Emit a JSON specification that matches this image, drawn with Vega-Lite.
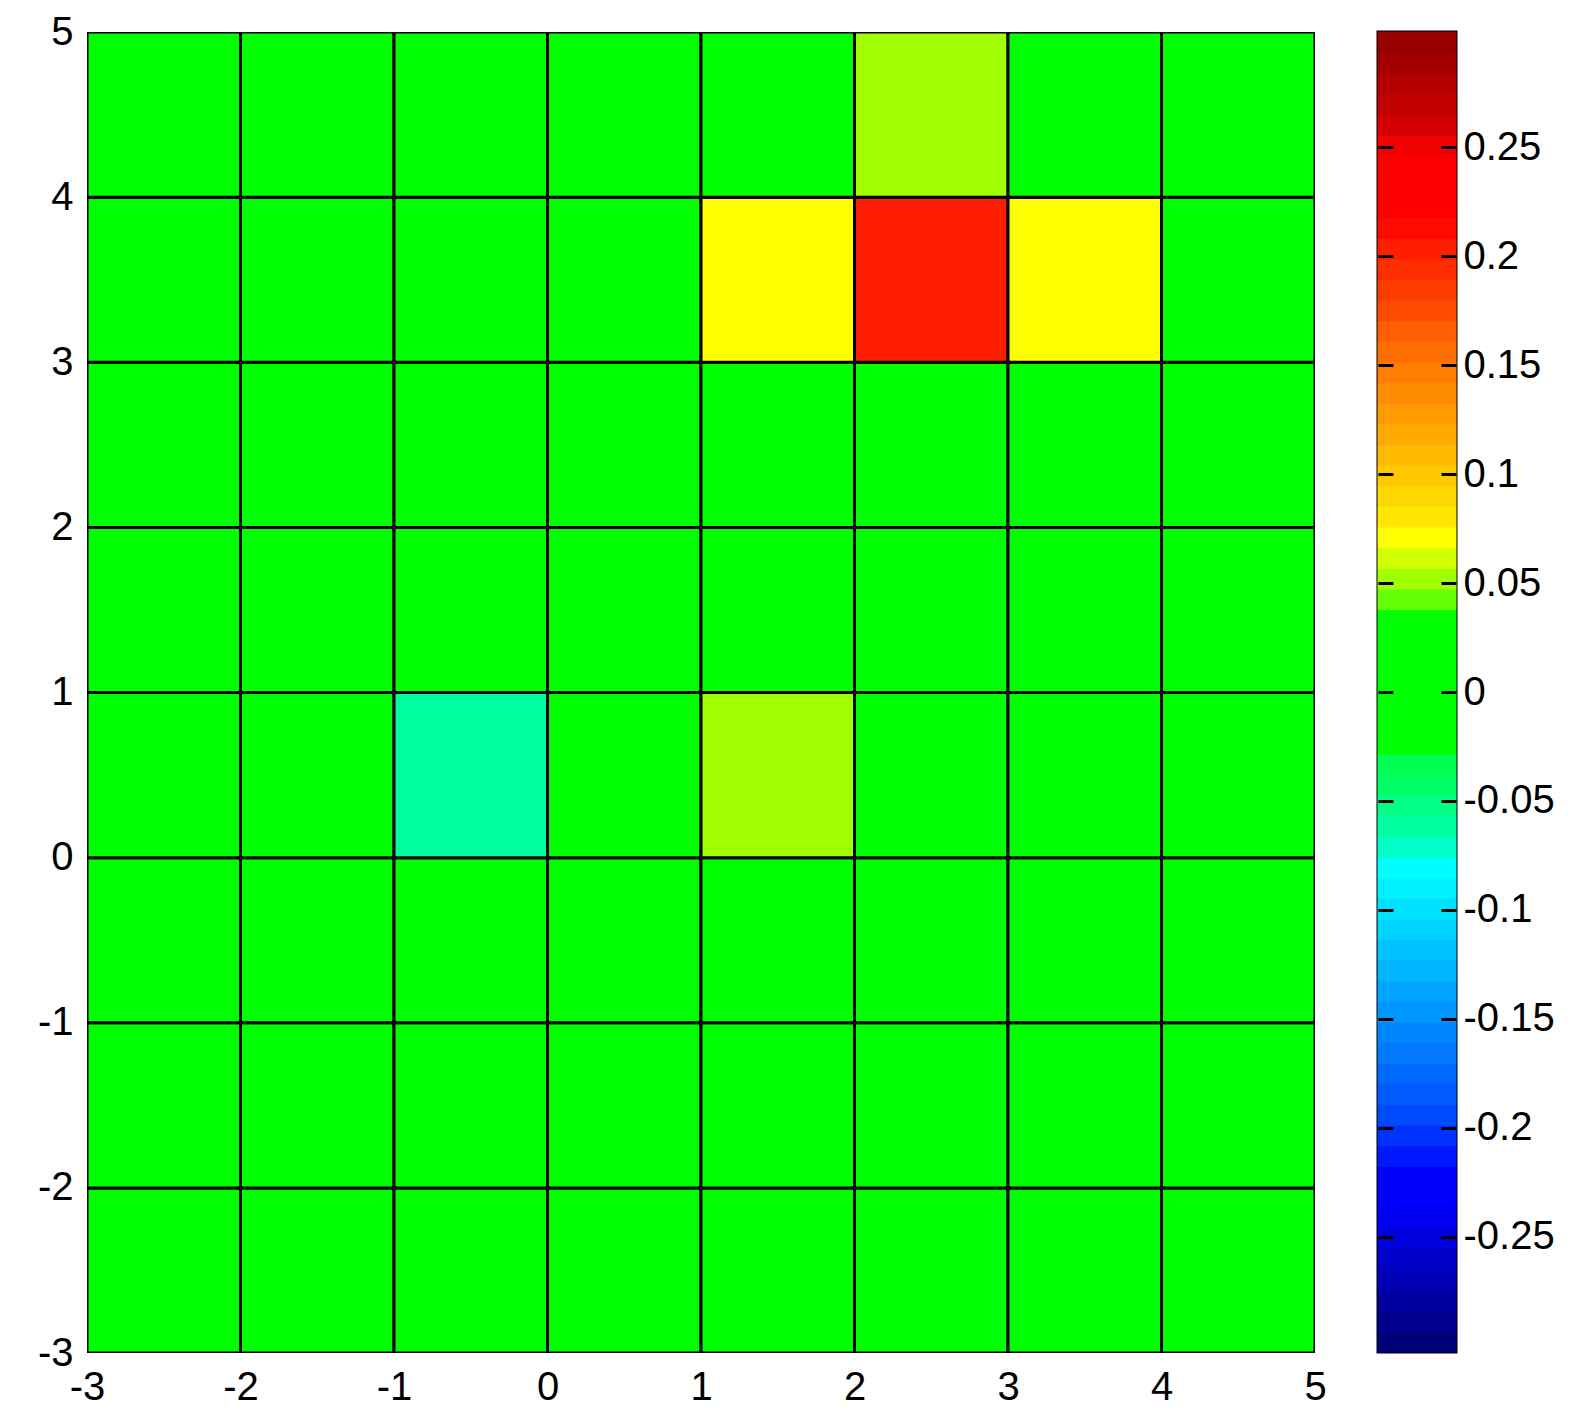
{
  "$schema": "https://vega.github.io/schema/vega-lite/v6.json",
  "padding": {"left": 37, "top": 12, "right": 0, "bottom": 0},
  "background": "white",
  "bounds": "flush",
  "spacing": 63,
  "config": {
    "axis": {"labelFont": "Liberation Sans", "labelFontSize": 40, "labelColor": "black", "grid": false, "domain": false, "ticks": false, "tickSize": 0, "labelPadding": 14, "labelFlush": false, "labelOverlap": false, "title": null, "labelExpr": "'' + datum.value"}
  },
  "resolve": {"scale": {"color": "shared"}},
  "hconcat": [
    {
      "width": 1228,
      "height": 1321,
      "view": {"stroke": null},
      "data": {"values": [
        {"x1": -3, "x2": -2, "y1": -3, "y2": -2, "v": 0},
        {"x1": -2, "x2": -1, "y1": -3, "y2": -2, "v": 0},
        {"x1": -1, "x2": 0, "y1": -3, "y2": -2, "v": 0},
        {"x1": 0, "x2": 1, "y1": -3, "y2": -2, "v": 0},
        {"x1": 1, "x2": 2, "y1": -3, "y2": -2, "v": 0},
        {"x1": 2, "x2": 3, "y1": -3, "y2": -2, "v": 0},
        {"x1": 3, "x2": 4, "y1": -3, "y2": -2, "v": 0},
        {"x1": 4, "x2": 5, "y1": -3, "y2": -2, "v": 0},
        {"x1": -3, "x2": -2, "y1": -2, "y2": -1, "v": 0},
        {"x1": -2, "x2": -1, "y1": -2, "y2": -1, "v": 0},
        {"x1": -1, "x2": 0, "y1": -2, "y2": -1, "v": 0},
        {"x1": 0, "x2": 1, "y1": -2, "y2": -1, "v": 0},
        {"x1": 1, "x2": 2, "y1": -2, "y2": -1, "v": 0},
        {"x1": 2, "x2": 3, "y1": -2, "y2": -1, "v": 0},
        {"x1": 3, "x2": 4, "y1": -2, "y2": -1, "v": 0},
        {"x1": 4, "x2": 5, "y1": -2, "y2": -1, "v": 0},
        {"x1": -3, "x2": -2, "y1": -1, "y2": 0, "v": 0},
        {"x1": -2, "x2": -1, "y1": -1, "y2": 0, "v": 0},
        {"x1": -1, "x2": 0, "y1": -1, "y2": 0, "v": 0},
        {"x1": 0, "x2": 1, "y1": -1, "y2": 0, "v": 0},
        {"x1": 1, "x2": 2, "y1": -1, "y2": 0, "v": 0},
        {"x1": 2, "x2": 3, "y1": -1, "y2": 0, "v": 0},
        {"x1": 3, "x2": 4, "y1": -1, "y2": 0, "v": 0},
        {"x1": 4, "x2": 5, "y1": -1, "y2": 0, "v": 0},
        {"x1": -3, "x2": -2, "y1": 0, "y2": 1, "v": 0},
        {"x1": -2, "x2": -1, "y1": 0, "y2": 1, "v": 0},
        {"x1": -1, "x2": 0, "y1": 0, "y2": 1, "v": -0.065},
        {"x1": 0, "x2": 1, "y1": 0, "y2": 1, "v": 0},
        {"x1": 1, "x2": 2, "y1": 0, "y2": 1, "v": 0.052},
        {"x1": 2, "x2": 3, "y1": 0, "y2": 1, "v": 0},
        {"x1": 3, "x2": 4, "y1": 0, "y2": 1, "v": 0},
        {"x1": 4, "x2": 5, "y1": 0, "y2": 1, "v": 0},
        {"x1": -3, "x2": -2, "y1": 1, "y2": 2, "v": 0},
        {"x1": -2, "x2": -1, "y1": 1, "y2": 2, "v": 0},
        {"x1": -1, "x2": 0, "y1": 1, "y2": 2, "v": 0},
        {"x1": 0, "x2": 1, "y1": 1, "y2": 2, "v": 0},
        {"x1": 1, "x2": 2, "y1": 1, "y2": 2, "v": 0},
        {"x1": 2, "x2": 3, "y1": 1, "y2": 2, "v": 0},
        {"x1": 3, "x2": 4, "y1": 1, "y2": 2, "v": 0},
        {"x1": 4, "x2": 5, "y1": 1, "y2": 2, "v": 0},
        {"x1": -3, "x2": -2, "y1": 2, "y2": 3, "v": 0},
        {"x1": -2, "x2": -1, "y1": 2, "y2": 3, "v": 0},
        {"x1": -1, "x2": 0, "y1": 2, "y2": 3, "v": 0},
        {"x1": 0, "x2": 1, "y1": 2, "y2": 3, "v": 0},
        {"x1": 1, "x2": 2, "y1": 2, "y2": 3, "v": 0},
        {"x1": 2, "x2": 3, "y1": 2, "y2": 3, "v": 0},
        {"x1": 3, "x2": 4, "y1": 2, "y2": 3, "v": 0},
        {"x1": 4, "x2": 5, "y1": 2, "y2": 3, "v": 0},
        {"x1": -3, "x2": -2, "y1": 3, "y2": 4, "v": 0},
        {"x1": -2, "x2": -1, "y1": 3, "y2": 4, "v": 0},
        {"x1": -1, "x2": 0, "y1": 3, "y2": 4, "v": 0},
        {"x1": 0, "x2": 1, "y1": 3, "y2": 4, "v": 0},
        {"x1": 1, "x2": 2, "y1": 3, "y2": 4, "v": 0.071},
        {"x1": 2, "x2": 3, "y1": 3, "y2": 4, "v": 0.203},
        {"x1": 3, "x2": 4, "y1": 3, "y2": 4, "v": 0.071},
        {"x1": 4, "x2": 5, "y1": 3, "y2": 4, "v": 0},
        {"x1": -3, "x2": -2, "y1": 4, "y2": 5, "v": 0},
        {"x1": -2, "x2": -1, "y1": 4, "y2": 5, "v": 0},
        {"x1": -1, "x2": 0, "y1": 4, "y2": 5, "v": 0},
        {"x1": 0, "x2": 1, "y1": 4, "y2": 5, "v": 0},
        {"x1": 1, "x2": 2, "y1": 4, "y2": 5, "v": 0},
        {"x1": 2, "x2": 3, "y1": 4, "y2": 5, "v": 0.052},
        {"x1": 3, "x2": 4, "y1": 4, "y2": 5, "v": 0},
        {"x1": 4, "x2": 5, "y1": 4, "y2": 5, "v": 0}
      ]},
      "mark": {"type": "rect", "stroke": "black", "strokeWidth": 3, "clip": true},
      "encoding": {
        "x": {"field": "x1", "type": "quantitative", "scale": {"domain": [-3, 5], "nice": false, "zero": false}, "axis": {"orient": "bottom", "values": [-3, -2, -1, 0, 1, 2, 3, 4, 5]}},
        "x2": {"field": "x2"},
        "y": {"field": "y1", "type": "quantitative", "scale": {"domain": [-3, 5], "nice": false, "zero": false}, "axis": {"orient": "left", "values": [-3, -2, -1, 0, 1, 2, 3, 4, 5]}},
        "y2": {"field": "y2"},
        "color": {"field": "v", "type": "quantitative", "legend": null, "scale": {"type": "quantize", "domain": [-0.303, 0.303], "nice": false, "zero": false, "range": ["#000078", "#00008C", "#0000A0", "#0000B4", "#0000C8", "#0000DC", "#0000F0", "#0000FF", "#0000FF", "#0019FF", "#0032FF", "#004BFF", "#005AFF", "#0069FF", "#0078FF", "#0087FF", "#0096FF", "#00A5FF", "#00B4FF", "#00C3FF", "#00D2FF", "#00E1FF", "#00F0FF", "#00FFFF", "#00FFC8", "#00FFA0", "#00FF82", "#00FF64", "#00FF50", "#00FF00", "#00FF00", "#00FF00", "#00FF00", "#00FF00", "#00FF00", "#00FF00", "#64FF00", "#A0FF00", "#D2FF00", "#FFFF00", "#FFE600", "#FFD700", "#FFC800", "#FFB900", "#FFAA00", "#FF9B00", "#FF8C00", "#FF7D00", "#FF6E00", "#FF5F00", "#FF4B00", "#FF3C00", "#FF2D00", "#FF1E00", "#FF0A00", "#FF0000", "#FF0000", "#FF0000", "#F00000", "#D20000", "#C30000", "#B40000", "#A50000", "#960000"]}}
      }
    },
    {
      "width": 78,
      "height": 1320,
      "view": {"stroke": "black", "strokeWidth": 3},
      "data": {"values": [
        {"lo": -0.30300, "hi": -0.29353, "mid": -0.2983},
        {"lo": -0.29353, "hi": -0.28406, "mid": -0.2888},
        {"lo": -0.28406, "hi": -0.27459, "mid": -0.2793},
        {"lo": -0.27459, "hi": -0.26513, "mid": -0.2699},
        {"lo": -0.26513, "hi": -0.25566, "mid": -0.2604},
        {"lo": -0.25566, "hi": -0.24619, "mid": -0.2509},
        {"lo": -0.24619, "hi": -0.23672, "mid": -0.2415},
        {"lo": -0.23672, "hi": -0.22725, "mid": -0.2320},
        {"lo": -0.22725, "hi": -0.21778, "mid": -0.2225},
        {"lo": -0.21778, "hi": -0.20831, "mid": -0.2130},
        {"lo": -0.20831, "hi": -0.19884, "mid": -0.2036},
        {"lo": -0.19884, "hi": -0.18938, "mid": -0.1941},
        {"lo": -0.18938, "hi": -0.17991, "mid": -0.1846},
        {"lo": -0.17991, "hi": -0.17044, "mid": -0.1752},
        {"lo": -0.17044, "hi": -0.16097, "mid": -0.1657},
        {"lo": -0.16097, "hi": -0.15150, "mid": -0.1562},
        {"lo": -0.15150, "hi": -0.14203, "mid": -0.1468},
        {"lo": -0.14203, "hi": -0.13256, "mid": -0.1373},
        {"lo": -0.13256, "hi": -0.12309, "mid": -0.1278},
        {"lo": -0.12309, "hi": -0.11363, "mid": -0.1184},
        {"lo": -0.11363, "hi": -0.10416, "mid": -0.1089},
        {"lo": -0.10416, "hi": -0.09469, "mid": -0.0994},
        {"lo": -0.09469, "hi": -0.08522, "mid": -0.0900},
        {"lo": -0.08522, "hi": -0.07575, "mid": -0.0805},
        {"lo": -0.07575, "hi": -0.06628, "mid": -0.0710},
        {"lo": -0.06628, "hi": -0.05681, "mid": -0.0615},
        {"lo": -0.05681, "hi": -0.04734, "mid": -0.0521},
        {"lo": -0.04734, "hi": -0.03788, "mid": -0.0426},
        {"lo": -0.03788, "hi": -0.02841, "mid": -0.0331},
        {"lo": -0.02841, "hi": -0.01894, "mid": -0.0237},
        {"lo": -0.01894, "hi": -0.00947, "mid": -0.0142},
        {"lo": -0.00947, "hi": 0, "mid": -0.0047},
        {"lo": 0, "hi": 0.00947, "mid": 0.0047},
        {"lo": 0.00947, "hi": 0.01894, "mid": 0.0142},
        {"lo": 0.01894, "hi": 0.02841, "mid": 0.0237},
        {"lo": 0.02841, "hi": 0.03788, "mid": 0.0331},
        {"lo": 0.03788, "hi": 0.04734, "mid": 0.0426},
        {"lo": 0.04734, "hi": 0.05681, "mid": 0.0521},
        {"lo": 0.05681, "hi": 0.06628, "mid": 0.0615},
        {"lo": 0.06628, "hi": 0.07575, "mid": 0.0710},
        {"lo": 0.07575, "hi": 0.08522, "mid": 0.0805},
        {"lo": 0.08522, "hi": 0.09469, "mid": 0.0900},
        {"lo": 0.09469, "hi": 0.10416, "mid": 0.0994},
        {"lo": 0.10416, "hi": 0.11363, "mid": 0.1089},
        {"lo": 0.11363, "hi": 0.12309, "mid": 0.1184},
        {"lo": 0.12309, "hi": 0.13256, "mid": 0.1278},
        {"lo": 0.13256, "hi": 0.14203, "mid": 0.1373},
        {"lo": 0.14203, "hi": 0.15150, "mid": 0.1468},
        {"lo": 0.15150, "hi": 0.16097, "mid": 0.1562},
        {"lo": 0.16097, "hi": 0.17044, "mid": 0.1657},
        {"lo": 0.17044, "hi": 0.17991, "mid": 0.1752},
        {"lo": 0.17991, "hi": 0.18938, "mid": 0.1846},
        {"lo": 0.18938, "hi": 0.19884, "mid": 0.1941},
        {"lo": 0.19884, "hi": 0.20831, "mid": 0.2036},
        {"lo": 0.20831, "hi": 0.21778, "mid": 0.2130},
        {"lo": 0.21778, "hi": 0.22725, "mid": 0.2225},
        {"lo": 0.22725, "hi": 0.23672, "mid": 0.2320},
        {"lo": 0.23672, "hi": 0.24619, "mid": 0.2415},
        {"lo": 0.24619, "hi": 0.25566, "mid": 0.2509},
        {"lo": 0.25566, "hi": 0.26513, "mid": 0.2604},
        {"lo": 0.26513, "hi": 0.27459, "mid": 0.2699},
        {"lo": 0.27459, "hi": 0.28406, "mid": 0.2793},
        {"lo": 0.28406, "hi": 0.29353, "mid": 0.2888},
        {"lo": 0.29353, "hi": 0.30300, "mid": 0.2983}
      ]},
      "layer": [
        {
          "mark": {"type": "rect", "strokeWidth": 1},
          "encoding": {
            "x": {"datum": 0, "type": "quantitative", "scale": {"domain": [0, 1], "nice": false}, "axis": null},
            "x2": {"datum": 1},
            "y": {"field": "lo", "type": "quantitative", "scale": {"domain": [-0.303, 0.303], "nice": false, "zero": false}, "axis": {"orient": "right", "values": [-0.25, -0.2, -0.15, -0.1, -0.05, 0, 0.05, 0.1, 0.15, 0.2, 0.25], "ticks": true, "tickSize": -15, "tickWidth": 3, "tickColor": "black", "labelPadding": 22, "zindex": 1}},
            "y2": {"field": "hi"},
            "color": {"field": "mid", "type": "quantitative", "legend": null, "scale": {"type": "quantize", "domain": [-0.303, 0.303], "nice": false, "zero": false, "range": ["#000078", "#00008C", "#0000A0", "#0000B4", "#0000C8", "#0000DC", "#0000F0", "#0000FF", "#0000FF", "#0019FF", "#0032FF", "#004BFF", "#005AFF", "#0069FF", "#0078FF", "#0087FF", "#0096FF", "#00A5FF", "#00B4FF", "#00C3FF", "#00D2FF", "#00E1FF", "#00F0FF", "#00FFFF", "#00FFC8", "#00FFA0", "#00FF82", "#00FF64", "#00FF50", "#00FF00", "#00FF00", "#00FF00", "#00FF00", "#00FF00", "#00FF00", "#00FF00", "#64FF00", "#A0FF00", "#D2FF00", "#FFFF00", "#FFE600", "#FFD700", "#FFC800", "#FFB900", "#FFAA00", "#FF9B00", "#FF8C00", "#FF7D00", "#FF6E00", "#FF5F00", "#FF4B00", "#FF3C00", "#FF2D00", "#FF1E00", "#FF0A00", "#FF0000", "#FF0000", "#FF0000", "#F00000", "#D20000", "#C30000", "#B40000", "#A50000", "#960000"]}},
            "stroke": {"field": "mid", "type": "quantitative", "legend": null, "scale": {"type": "quantize", "domain": [-0.303, 0.303], "nice": false, "zero": false, "range": ["#000078", "#00008C", "#0000A0", "#0000B4", "#0000C8", "#0000DC", "#0000F0", "#0000FF", "#0000FF", "#0019FF", "#0032FF", "#004BFF", "#005AFF", "#0069FF", "#0078FF", "#0087FF", "#0096FF", "#00A5FF", "#00B4FF", "#00C3FF", "#00D2FF", "#00E1FF", "#00F0FF", "#00FFFF", "#00FFC8", "#00FFA0", "#00FF82", "#00FF64", "#00FF50", "#00FF00", "#00FF00", "#00FF00", "#00FF00", "#00FF00", "#00FF00", "#00FF00", "#64FF00", "#A0FF00", "#D2FF00", "#FFFF00", "#FFE600", "#FFD700", "#FFC800", "#FFB900", "#FFAA00", "#FF9B00", "#FF8C00", "#FF7D00", "#FF6E00", "#FF5F00", "#FF4B00", "#FF3C00", "#FF2D00", "#FF1E00", "#FF0A00", "#FF0000", "#FF0000", "#FF0000", "#F00000", "#D20000", "#C30000", "#B40000", "#A50000", "#960000"]}}
          }
        },
        {
          "mark": {"type": "rect", "opacity": 0},
          "encoding": {
            "x": {"datum": 0, "type": "quantitative", "scale": {"domain": [0, 1], "nice": false}, "axis": null},
            "x2": {"datum": 1},
            "y": {"field": "lo", "type": "quantitative", "scale": {"domain": [-0.303, 0.303], "nice": false, "zero": false}, "axis": {"orient": "left", "values": [-0.25, -0.2, -0.15, -0.1, -0.05, 0, 0.05, 0.1, 0.15, 0.2, 0.25], "ticks": true, "tickSize": -15, "tickWidth": 3, "tickColor": "black", "labels": false, "zindex": 1}},
            "y2": {"field": "hi"}
          }
        }
      ],
      "resolve": {"scale": {"y": "independent"}}
    }
  ]
}
